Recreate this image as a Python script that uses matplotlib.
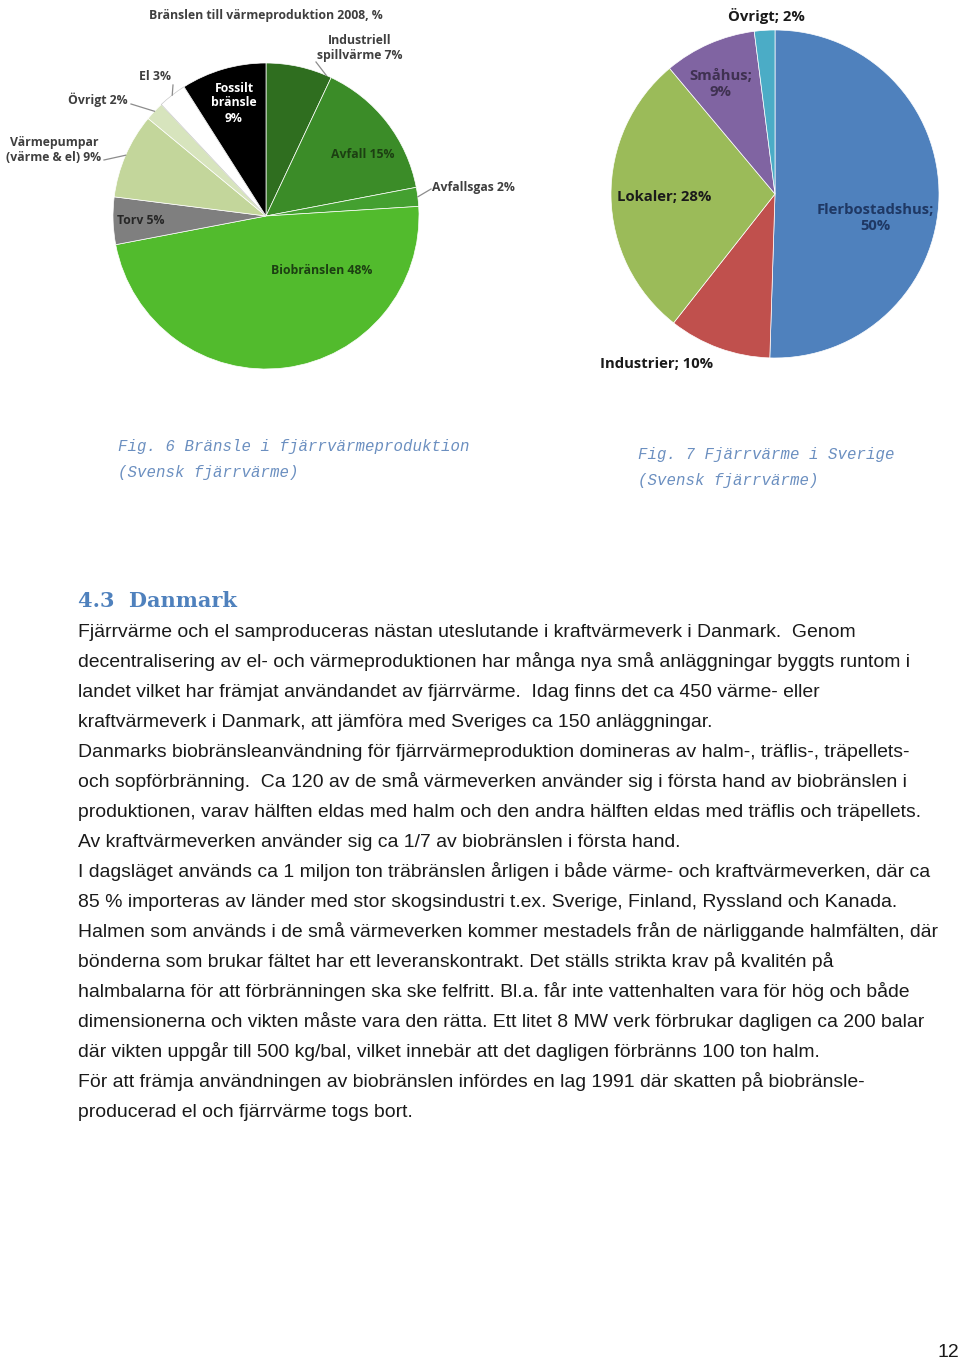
import numpy as np
import matplotlib.pyplot as plt

W, H = 960, 1360

# Fig. 6 - fuel for district heating 2008 (clockwise from top)
fuel_labels = ['Industriell\nspillvärme 7%', 'Avfall 15%', 'Avfallsgas 2%', 'Biobränslen 48%',
               'Torv 5%', 'Värmepumpar\n(värme & el) 9%', 'Övrigt 2%', 'El 3%', 'Fossilt\nbränsle\n9%']
fuel_values = [7, 15, 2, 48, 5, 9, 2, 3, 9]
fuel_colors = ['#2f6e1f', '#3b8c28', '#44a030', '#52bb2d', '#7f7f7f', '#c3d69b', '#d7e4bd', '#ffffff', '#000000']

# Fig. 7 - district heating users in Sweden (clockwise from top)
use_labels = ['Flerbostadshus;\n50%', 'Industrier; 10%', 'Lokaler; 28%', 'Småhus;\n9%', 'Övrigt; 2%']
use_values = [50, 10, 28, 9, 2]
use_colors = ['#4f81bd', '#c0504d', '#9bbb59', '#8064a2', '#4bacc6']

body_lines = [
    "Fjärrvärme och el samproduceras nästan uteslutande i kraftvärmeverk i Danmark.  Genom",
    "decentralisering av el- och värmeproduktionen har många nya små anläggningar byggts runtom i",
    "landet vilket har främjat användandet av fjärrvärme.  Idag finns det ca 450 värme- eller",
    "kraftvärmeverk i Danmark, att jämföra med Sveriges ca 150 anläggningar.",
    "Danmarks biobränsleanvändning för fjärrvärmeproduktion domineras av halm-, träflis-, träpellets-",
    "och sopförbränning.  Ca 120 av de små värmeverken använder sig i första hand av biobränslen i",
    "produktionen, varav hälften eldas med halm och den andra hälften eldas med träflis och träpellets.",
    "Av kraftvärmeverken använder sig ca 1/7 av biobränslen i första hand.",
    "I dagsläget används ca 1 miljon ton träbränslen årligen i både värme- och kraftvärmeverken, där ca",
    "85 % importeras av länder med stor skogsindustri t.ex. Sverige, Finland, Ryssland och Kanada.",
    "Halmen som används i de små värmeverken kommer mestadels från de närliggande halmfälten, där",
    "bönderna som brukar fältet har ett leveranskontrakt. Det ställs strikta krav på kvalitén på",
    "halmbalarna för att förbränningen ska ske felfritt. Bl.a. får inte vattenhalten vara för hög och både",
    "dimensionerna och vikten måste vara den rätta. Ett litet 8 MW verk förbrukar dagligen ca 200 balar",
    "där vikten uppgår till 500 kg/bal, vilket innebär att det dagligen förbränns 100 ton halm.",
    "För att främja användningen av biobränslen infördes en lag 1991 där skatten på biobränsle-",
    "producerad el och fjärrvärme togs bort.",
]

fig = plt.figure(figsize=(W / 100, H / 100), dpi=100)

label_font = ['Open Sans', 'DejaVu Sans']
body_font = ['Liberation Sans', 'DejaVu Sans']


def pie_axes(cx, cy, r):
    ax = fig.add_axes([(cx - r) / W, 1 - (cy + r) / H, 2 * r / W, 2 * r / H])
    return ax


def fix_limits(ax):
    ax.set_xlim(-1, 1)
    ax.set_ylim(-1, 1)
    ax.set_aspect('auto')
    ax.axis('off')


def edge_point(cx, cy, r, wedge, frac):
    th = np.deg2rad(wedge.theta1 + frac * (wedge.theta2 - wedge.theta1))
    return cx + r * np.cos(th), cy - r * np.sin(th)


# ---- left pie
lcx, lcy, lr = 266, 216, 153
ax1 = pie_axes(lcx, lcy, lr)
wedges1, _ = ax1.pie(fuel_values, colors=fuel_colors, startangle=90, counterclock=False,
                     radius=1, wedgeprops=dict(edgecolor='white', linewidth=0.5))
wedges1[7].set_edgecolor('#c8c8c8')
fix_limits(ax1)

# ---- right pie
rcx, rcy, rr = 775, 194, 164
ax2 = pie_axes(rcx, rcy, rr)
wedges2, _ = ax2.pie(use_values, colors=use_colors, startangle=90, counterclock=False,
                     radius=1, wedgeprops=dict(edgecolor='white', linewidth=0.5))
fix_limits(ax2)

# page overlay in pixel coordinates (drawn above the pies)
page = fig.add_axes([0, 0, 1, 1], zorder=10)
page.patch.set_alpha(0)
page.set_xlim(0, W)
page.set_ylim(H, 0)
page.axis('off')

page.text(266, 15, 'Bränslen till värmeproduktion 2008, %', ha='center', va='center',
          fontsize=8.8, fontweight='bold', color='#3f3f3f', family=label_font)

# (text x, text y, ha, colour, leader target fraction, leader start)
# wedge theta1 is the trailing (clockwise) edge, so frac near 0 is the far side
fuel_pos = [
    (360, 48, 'center', '#3f3f3f', 0.08, (316, 62)),
    (363, 155, 'center', '#1c3f12', None, None),
    (432, 188, 'left', '#3f3f3f', 0.5, (431, 189)),
    (322, 271, 'center', '#1c3f12', None, None),
    (141, 220, 'center', '#262626', None, None),
    (54, 150, 'center', '#3f3f3f', 0.5, (104, 160)),
    (98, 100, 'center', '#3f3f3f', 0.5, (131, 104)),
    (155, 77, 'center', '#3f3f3f', 0.5, (173, 85)),
    (234, 103, 'center', '#ffffff', None, None),
]
for w, lab, (tx, ty, ha, col, frac, start) in zip(wedges1, fuel_labels, fuel_pos):
    page.text(tx, ty, lab, ha=ha, va='center', fontsize=8.8, fontweight='bold', color=col,
              family=label_font, linespacing=1.2)
    if frac is not None:
        ex, ey = edge_point(lcx, lcy, lr, w, frac)
        page.plot([start[0], ex], [start[1], ey], color='#8c8c8c', lw=0.9)

use_pos = [
    (875, 218, '#1f3864'),
    (657, 364, '#1a1a1a'),
    (664, 197, '#1a1a1a'),
    (721, 84, '#3f3151'),
    (766, 16, '#1a1a1a'),
]
for lab, (tx, ty, col) in zip(use_labels, use_pos):
    page.text(tx, ty, lab, ha='center', va='center', fontsize=10.7, fontweight='bold', color=col,
              family=label_font, linespacing=1.25)

# ---- captions
cap_col = '#6b8fc0'
cap_kw = dict(fontsize=11.3, style='italic', color=cap_col, family='Liberation Mono', va='center')
page.text(118, 447, 'Fig. 6 Bränsle i fjärrvärmeproduktion', **cap_kw)
page.text(118, 473, '(Svensk fjärrvärme)', **cap_kw)
page.text(638, 454, 'Fig. 7 Fjärrvärme i Sverige', **cap_kw)
page.text(638, 480, '(Svensk fjärrvärme)', **cap_kw)

# ---- section heading and body
page.text(78, 607, '4.3  Danmark', fontsize=15, fontweight='bold', color='#4f81bd',
          family='DejaVu Serif', va='baseline')
for i, line in enumerate(body_lines):
    page.text(78, 637 + 30 * i, line, fontsize=13.95, color='#1a1a1a',
              family=body_font, va='baseline')

page.text(948, 1357, '12', fontsize=13.95, color='#1a1a1a', ha='center', va='baseline',
          family=body_font)

fig.savefig('out.png', dpi=100)
